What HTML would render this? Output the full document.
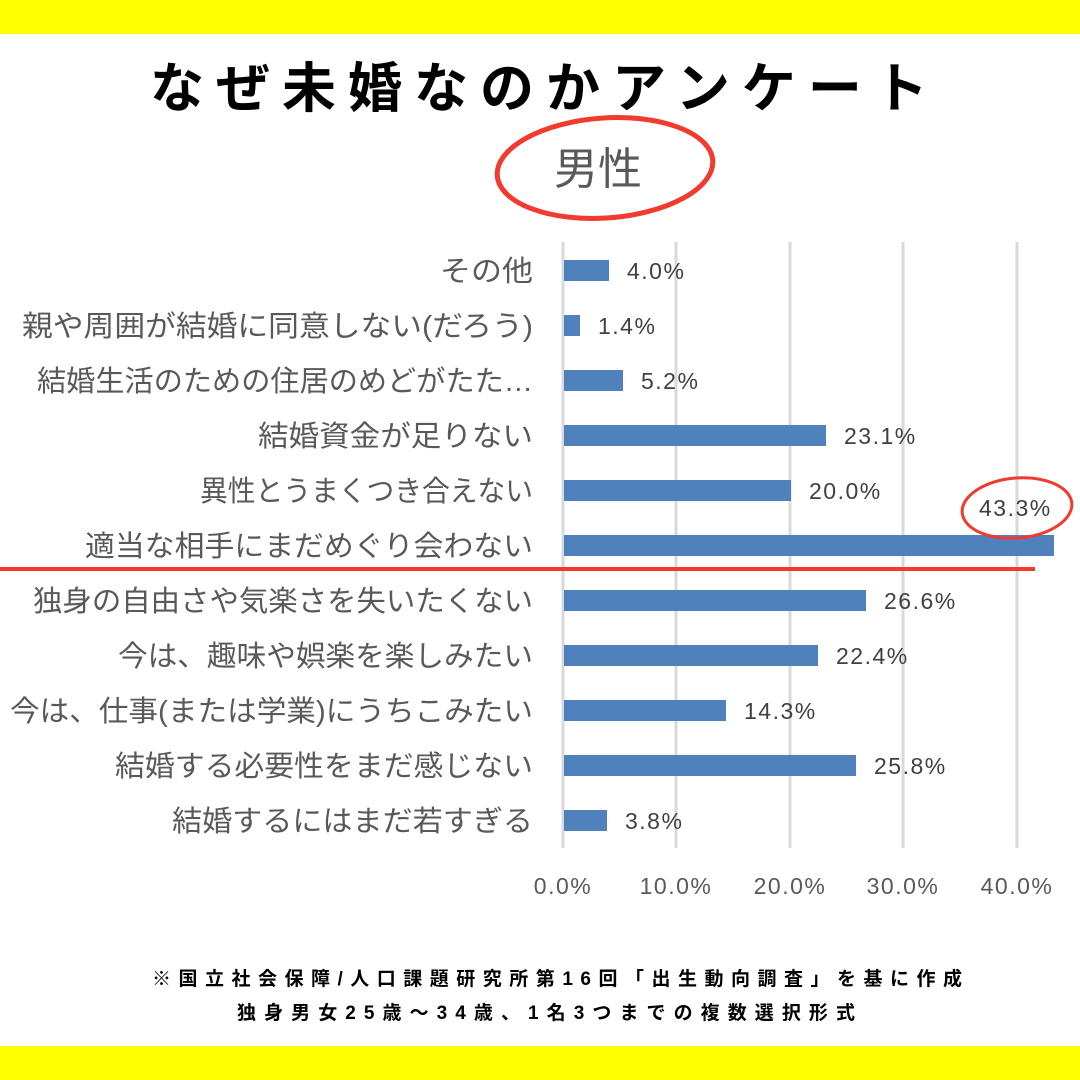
<!DOCTYPE html>
<html><head><meta charset="utf-8"><style>
body{margin:0;width:1080px;height:1080px;background:#fff;overflow:hidden;position:relative;font-family:"Liberation Sans","Noto Sans CJK JP",sans-serif}
.y{position:absolute;left:0;width:1080px;background:#ffff00}
.t{position:absolute;white-space:nowrap}
</style></head><body>
<div class="y" style="top:0;height:34px"></div>
<div class="y" style="top:1046px;height:34px"></div>
<div class="t" style="left:150px;top:44px;font-size:54px;font-weight:bold;letter-spacing:12px;color:#000">なぜ未婚なのかアンケート</div>
<svg width="1080" height="1080" style="position:absolute;left:0;top:0" font-family="Liberation Sans, Noto Sans CJK JP, sans-serif">
<ellipse cx="605" cy="168" rx="108" ry="50" fill="none" stroke="#f23a2e" stroke-width="5" transform="rotate(-4 605 168)"/>
<text x="598" y="184" font-size="44" fill="#595959" text-anchor="middle">男性</text>
<g stroke="#d9d9d9" stroke-width="3">
<line x1="563" y1="242" x2="563" y2="848"/><line x1="676" y1="242" x2="676" y2="848"/><line x1="790" y1="242" x2="790" y2="848"/><line x1="903" y1="242" x2="903" y2="848"/><line x1="1017" y1="242" x2="1017" y2="848"/>
</g>
<g fill="#4f81bd">
<rect x="564" y="260" width="45" height="21"/>
<rect x="564" y="315" width="16" height="21"/>
<rect x="564" y="370" width="59" height="21"/>
<rect x="564" y="425" width="262" height="21"/>
<rect x="564" y="480" width="227" height="21"/>
<rect x="564" y="535" width="490" height="21"/>
<rect x="564" y="590" width="302" height="21"/>
<rect x="564" y="645" width="254" height="21"/>
<rect x="564" y="700" width="162" height="21"/>
<rect x="564" y="755" width="292" height="21"/>
<rect x="564" y="810" width="43" height="21"/>
</g>
<rect x="0" y="567" width="1035" height="4" fill="#f23a2e"/>
<g font-size="29" fill="#595959" lengthAdjust="spacingAndGlyphs">
<text x="440" y="281" textLength="93" lengthAdjust="spacingAndGlyphs">その他</text>
<text x="22" y="336" textLength="511" lengthAdjust="spacingAndGlyphs">親や周囲が結婚に同意しない(だろう)</text>
<text x="37" y="391" textLength="496" lengthAdjust="spacingAndGlyphs">結婚生活のための住居のめどがたた…</text>
<text x="258" y="446" textLength="275" lengthAdjust="spacingAndGlyphs">結婚資金が足りない</text>
<text x="200" y="501" textLength="333" lengthAdjust="spacingAndGlyphs">異性とうまくつき合えない</text>
<text x="85" y="556" textLength="448" lengthAdjust="spacingAndGlyphs">適当な相手にまだめぐり会わない</text>
<text x="33" y="611" textLength="500" lengthAdjust="spacingAndGlyphs">独身の自由さや気楽さを失いたくない</text>
<text x="118" y="666" textLength="415" lengthAdjust="spacingAndGlyphs">今は、趣味や娯楽を楽しみたい</text>
<text x="10" y="721" textLength="523" lengthAdjust="spacingAndGlyphs">今は、仕事(または学業)にうちこみたい</text>
<text x="115" y="776" textLength="418" lengthAdjust="spacingAndGlyphs">結婚する必要性をまだ感じない</text>
<text x="172" y="831" textLength="361" lengthAdjust="spacingAndGlyphs">結婚するにはまだ若すぎる</text>
</g>
<g font-size="23" fill="#404040" letter-spacing="1.5">
<text x="627" y="279">4.0%</text>
<text x="598" y="334">1.4%</text>
<text x="641" y="389">5.2%</text>
<text x="844" y="444">23.1%</text>
<text x="809" y="499">20.0%</text>
<text x="979" y="516">43.3%</text>
<text x="884" y="609">26.6%</text>
<text x="836" y="664">22.4%</text>
<text x="744" y="719">14.3%</text>
<text x="874" y="774">25.8%</text>
<text x="625" y="829">3.8%</text>
</g>
<ellipse cx="1017" cy="508" rx="55" ry="30" fill="none" stroke="#f23a2e" stroke-width="3" transform="rotate(-5 1017 508)"/>
<g font-size="23" fill="#595959" text-anchor="middle" letter-spacing="1.5">
<text x="563" y="894">0.0%</text><text x="676" y="894">10.0%</text><text x="790" y="894">20.0%</text><text x="903" y="894">30.0%</text><text x="1017" y="894">40.0%</text>
</g>
<g font-size="19" font-weight="bold" fill="#000">
<text x="152" y="985" textLength="810" lengthAdjust="spacing">※国立社会保障/人口課題研究所第16回「出生動向調査」を基に作成</text>
<text x="237" y="1019" textLength="618" lengthAdjust="spacing">独身男女25歳～34歳、1名3つまでの複数選択形式</text>
</g>
</svg>
</body></html>
